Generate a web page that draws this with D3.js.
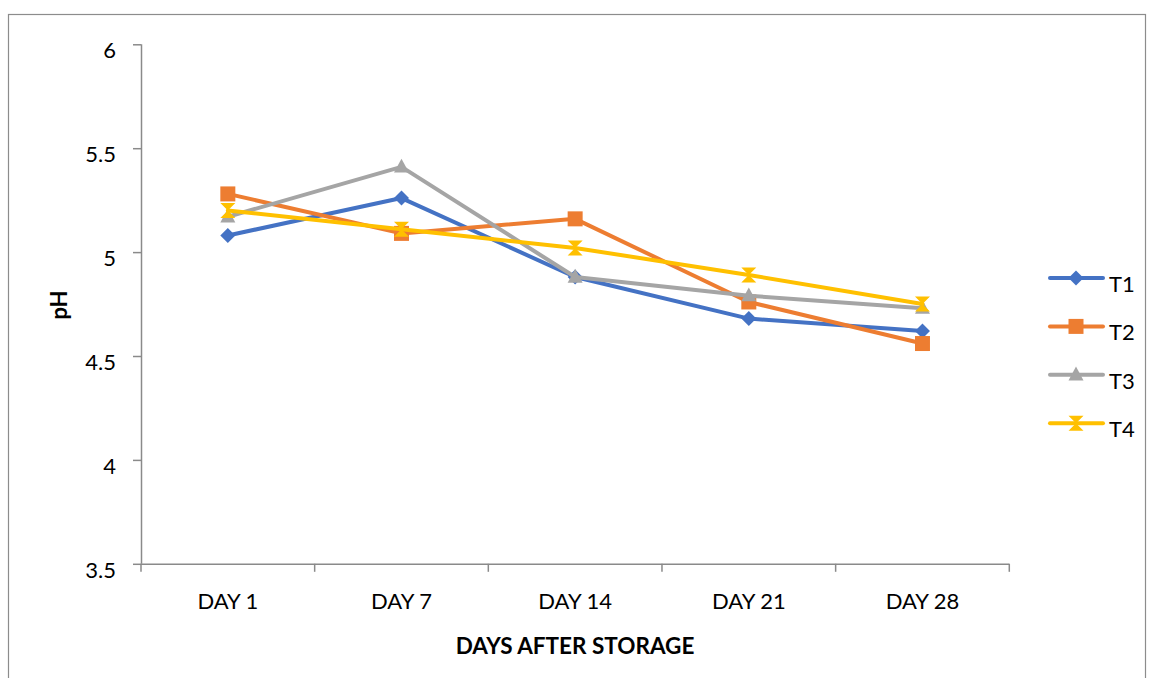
<!DOCTYPE html>
<html>
<head>
<meta charset="utf-8">
<script src="https://cdn.jsdelivr.net/npm/d3@7"></script>
<style>
  html, body { margin: 0; padding: 0; background: #fff; }
  svg { display: block; font-family: Lato, "Open Sans", sans-serif; }
</style>
</head>
<body>
<svg id="chart" width="1149" height="678"></svg>
<script>
// pH of samples over storage time, four treatments
const categories = ["DAY 1", "DAY 7", "DAY 14", "DAY 21", "DAY 28"];
const seriesNames = ["T1", "T2", "T3", "T4"];
const t1 = [5.08, 5.26, 4.88, 4.68, 4.62];
const t2 = [5.28, 5.09, 5.16, 4.76, 4.56];
const t3 = [5.17, 5.41, 4.88, 4.79, 4.73];
const t4 = [5.20, 5.11, 5.02, 4.89, 4.75];
const yTicks = [3.5, 4, 4.5, 5, 5.5, 6];
const colors = ["#4472C4", "#ED7D31", "#A5A5A5", "#FFC000"];
const markers = ["diamond", "square", "triangle", "hourglass"];

const series = seriesNames.map((name, i) => ({
  name, values: [t1, t2, t3, t4][i], color: colors[i], marker: markers[i]
}));

const svg = d3.select("#chart");
const plotLeft = 141, plotRight = 1009.3, plotTop = 44.3, plotBottom = 563.8;
const axisColor = "#8a8a8a";

// outer chart frame
svg.append("rect")
  .attr("x", 8.5).attr("y", 14.5)
  .attr("width", 1137).attr("height", 680)
  .attr("fill", "none").attr("stroke", "#8c8c8c").attr("stroke-width", 1.2);

const x = d3.scaleBand().domain(categories).range([plotLeft, plotRight]).padding(0);
const y = d3.scaleLinear().domain([3.5, 6]).range([plotBottom, plotTop]);
const cx = c => x(c) + x.bandwidth() / 2;

// y axis
const yAxis = svg.append("g")
  .attr("transform", `translate(${plotLeft},0)`)
  .call(d3.axisLeft(y).tickValues(yTicks).tickSize(8).tickPadding(17)
    .tickFormat(d => String(d)));
yAxis.select(".domain").attr("stroke", axisColor).attr("stroke-width", 1.5)
  .attr("d", `M0.5,${plotTop}V${plotBottom}`);
yAxis.selectAll(".tick line").attr("stroke", axisColor).attr("stroke-width", 1.5);
yAxis.selectAll(".tick text")
  .attr("fill", "#000").attr("font-size", 22).attr("font-family", "Lato")
  .attr("dy", "0.6em");

// x axis: category labels at band centres, ticks at band edges
const xAxis = svg.append("g")
  .attr("transform", `translate(0,${plotBottom})`)
  .call(d3.axisBottom(x).tickSize(0).tickPadding(30));
xAxis.select(".domain").attr("stroke", axisColor).attr("stroke-width", 1.5)
  .attr("d", `M${plotLeft},0.5H${plotRight}`);
xAxis.selectAll(".tick text")
  .attr("fill", "#000").attr("font-size", 22).attr("font-family", "Lato");
const edges = categories.map(c => x(c)).concat([x(categories[categories.length - 1]) + x.bandwidth()]);
xAxis.selectAll("line.edge").data(edges).join("line")
  .attr("class", "edge")
  .attr("x1", d => d).attr("x2", d => d)
  .attr("y1", 0).attr("y2", 8)
  .attr("stroke", axisColor).attr("stroke-width", 1.5);

// axis titles
svg.append("text")
  .attr("x", 575).attr("y", 654)
  .attr("text-anchor", "middle")
  .attr("font-size", 22.5).attr("font-weight", "bold").attr("fill", "#000")
  .text("DAYS AFTER STORAGE");
svg.append("text")
  .attr("transform", "translate(67,305) rotate(-90)")
  .attr("text-anchor", "middle")
  .attr("font-size", 22).attr("font-weight", "bold").attr("fill", "#000")
  .text("pH");

// marker shapes
function markerPath(type, s) {
  switch (type) {
    case "diamond":
      return `M0,${-s}L${s},0L0,${s}L${-s},0Z`;
    case "square":
      return `M${-s},${-s}H${s}V${s}H${-s}Z`;
    case "triangle":
      return `M0,${-s * 1.1}L${s},${s * 0.75}H${-s}Z`;
    case "hourglass":
      return `M${-s},${-s}H${s}L0,0Z M${-s},${s}H${s}L0,0Z`;
  }
}

const line = d3.line()
  .x((d, i) => cx(categories[i]))
  .y(d => y(d));

series.forEach(s => {
  const g = svg.append("g");
  g.append("path")
    .datum(s.values)
    .attr("d", line)
    .attr("fill", "none")
    .attr("stroke", s.color)
    .attr("stroke-width", 4)
    .attr("stroke-linejoin", "round")
    .attr("stroke-linecap", "round");
  g.selectAll("path.mk").data(s.values).join("path")
    .attr("class", "mk")
    .attr("transform", (d, i) => `translate(${cx(categories[i])},${y(d)})`)
    .attr("d", markerPath(s.marker, 7.5))
    .attr("fill", s.color);
});

// legend
const legend = svg.append("g");
series.forEach((s, i) => {
  const ly = 278 + i * 48.4;
  const g = legend.append("g").attr("transform", `translate(0,${ly})`);
  g.append("line")
    .attr("x1", 1050).attr("x2", 1103)
    .attr("y1", 0).attr("y2", 0)
    .attr("stroke", s.color).attr("stroke-width", 4)
    .attr("stroke-linecap", "round");
  g.append("path")
    .attr("transform", "translate(1076,0)")
    .attr("d", markerPath(s.marker, 7.5))
    .attr("fill", s.color);
  g.append("text")
    .attr("x", 1109).attr("y", 14)
    .attr("font-size", 22).attr("fill", "#000")
    .text(s.name);
});
</script>
</body>
</html>
